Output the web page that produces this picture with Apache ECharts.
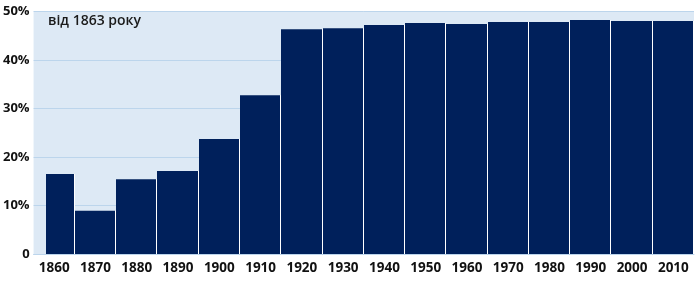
<!DOCTYPE html>
<html><head><meta charset="utf-8">
<script src="https://cdn.jsdelivr.net/npm/echarts@6/dist/echarts.min.js"></script>
<style>html,body{margin:0;padding:0;background:#fff}#c{width:695px;height:285px}</style>
</head><body><div id="c"></div>
<script>
const categories = ['1860','1870','1880','1890','1900','1910','1920','1930','1940','1950','1960','1970','1980','1990','2000','2010'];
const periodStart = [1863,1870,1880,1890,1900,1910,1920,1930,1940,1950,1960,1970,1980,1990,2000,2010];
const periodEnd   = [1870,1880,1890,1900,1910,1920,1930,1940,1950,1960,1970,1980,1990,2000,2010,2020];
const values = [16.5, 8.9, 15.4, 17.1, 23.7, 32.7, 46.3, 46.5, 47.2, 47.6, 47.4, 47.8, 47.8, 48.2, 48.0, 48.0];
const yTicks = [0,10,20,30,40,50];
const titleText = 'від 1863 року';

const chart = echarts.init(document.getElementById('c'), null, {renderer:'canvas'});
const font = '"Open Sans", "Noto Sans", sans-serif';
chart.setOption({
  animation: false,
  grid: {left: 31, right: 1, top: 11.3, bottom: 31, show: true, backgroundColor: '#dde9f5', borderWidth: 0},
  title: {text: titleText, left: 43, top: 9, textStyle: {fontFamily: font, fontSize: 14, fontWeight: 600, color: '#1a1a1a'}},
  xAxis: [
    {type: 'category', data: categories, boundaryGap: true,
     axisLine: {show: true, lineStyle: {color: '#bcd5ec'}}, axisTick: {show: false},
     axisLabel: {fontFamily: font, fontSize: 13.5, fontWeight: 'bold', color: '#111', margin: 7}},
    {type: 'value', min: 1860, max: 2020, show: false}
  ],
  yAxis: {type: 'value', min: 0, max: 50, interval: 10,
    axisLine: {show: false}, axisTick: {show: false},
    splitLine: {lineStyle: {color: '#bcd5ec', width: 1}},
    axisLabel: {fontFamily: font, fontSize: 13, fontWeight: 'bold', color: '#111', margin: 4,
      formatter: v => v === 0 ? '0' : v + '%'}},
  series: [{
    type: 'custom', xAxisIndex: 1, yAxisIndex: 0,
    data: values.map((v, i) => [periodStart[i], periodEnd[i], v]),
    encode: {x: [0, 1], y: 2},
    renderItem: function (params, api) {
      const p1 = api.coord([api.value(0), api.value(2)]);
      const p2 = api.coord([api.value(1), 0]);
      const x1 = Math.round(p1[0]), x2 = Math.round(p2[0]);
      const yTop = p1[1], yBot = p2[1];
      return {type: 'group', children: [
        {type: 'rect', shape: {x: x1, y: yTop, width: x2 - x1 - 1, height: yBot - yTop}, style: {fill: '#00205b'}},
        {type: 'rect', shape: {x: x2 - 1, y: yTop, width: 1, height: yBot - yTop}, style: {fill: '#ffffff'}}
      ]};
    }
  }]
});
</script></body></html>
